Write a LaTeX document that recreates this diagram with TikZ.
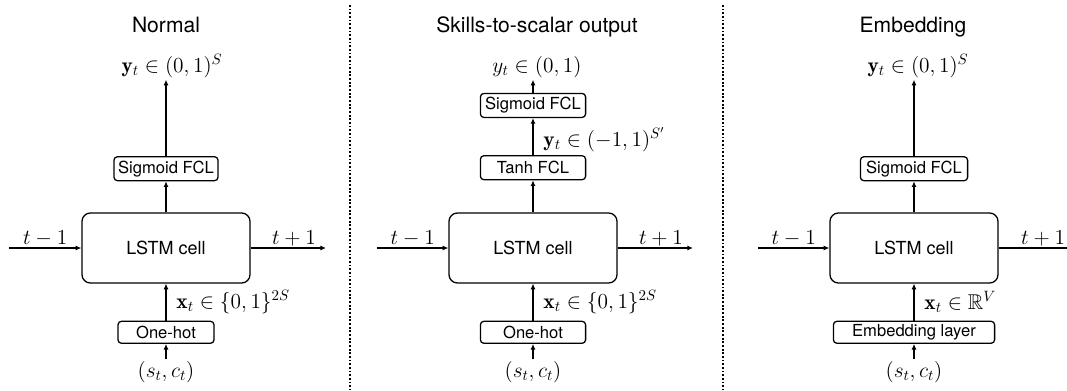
\RequirePackage{fix-cm}
\documentclass[tikz,border=0pt]{standalone}
\usepackage{amsmath,amssymb}
\usepackage{fontspec}
\setsansfont{TeX Gyre Heros}
\usepackage{tikz}
\usetikzlibrary{arrows.meta,positioning}

\begin{document}
\begin{tikzpicture}[x=0.025cm,y=-0.025cm,>={Latex[length=4pt,width=3.6pt]},line width=0.9pt]
\tikzstyle{cell}=[draw,rounded corners=6pt,minimum width=4.2cm,minimum height=1.75cm,inner sep=0pt,font=\sffamily\fontsize{12.8}{15}\selectfont]
\tikzstyle{layer}=[draw,rounded corners=2.5pt,minimum height=0.6cm,inner sep=0pt,font=\sffamily\fontsize{11.8}{13}\selectfont]
\tikzstyle{title}=[anchor=base,font=\sffamily\fontsize{15}{18}\selectfont]
\tikzstyle{lbl}=[font=\fontsize{15.2}{17}\selectfont,inner sep=1pt]
\tikzstyle{sep}=[line width=0.8pt,dash pattern=on 1.3pt off 1.3pt]
\useasboundingbox (0,0) rectangle (1067,390);
% normal
\node[title] (t1) at (166,32) {Normal};
\node[cell] (c1) at (166,248) {LSTM cell};
\node[layer, minimum width=2.6cm, above=0.775cm of c1] (sig1) {Sigmoid FCL};
\node[layer, minimum width=2.4cm, minimum height=0.55cm, below=0.925cm of c1] (oh1) {One-hot};
\node[lbl] (out1) at (172,66) {$\mathbf{y}_t \in (0,1)^S$};
\node[lbl] (in1) at (166,372) {$(s_t,c_t)$};
\coordinate (l1) at (9,248);
\coordinate (r1) at (326,248);
\draw[->] (l1) -- (c1) node[midway,above,lbl] {$t-1$};
\draw[->] (c1) -- (r1) node[midway,above,lbl,xshift=4pt] {$t+1$};
\draw[->] (c1) -- (sig1);
\draw[->] (sig1.north) -- (sig1.north |- out1.south);
\draw[->] (oh1) -- (c1) node[midway,right=6pt,lbl] {$\mathbf{x}_t \in \{0,1\}^{2S}$};
\draw[->] (in1) -- (oh1);
\draw[sep] (350,5) -- (350,390);
% skills-to-scalar
\node[title] (t2) at (537,32) {Skills-to-scalar output};
\node[cell] (c2) at (533,248) {LSTM cell};
\node[layer, minimum width=2.63cm, above=0.8cm of c2] (tanh2) {Tanh FCL};
\node[layer, minimum width=2.63cm, above=0.925cm of tanh2] (sig2) {Sigmoid FCL};
\node[layer, minimum width=2.63cm, minimum height=0.55cm, below=0.925cm of c2] (oh2) {One-hot};
\node[lbl] (out2) at (537,67) {$y_t \in (0,1)$};
\node[lbl] (in2) at (533,372) {$(s_t,c_t)$};
\coordinate (l2) at (377,248);
\coordinate (r2) at (693,248);
\draw[->] (l2) -- (c2) node[midway,above,lbl] {$t-1$};
\draw[->] (c2) -- (r2) node[midway,above,lbl,xshift=4pt] {$t+1$};
\draw[->] (c2) -- (tanh2);
\draw[->] (tanh2) -- (sig2) node[midway,right=6pt,lbl,yshift=-2pt] {$\mathbf{y}_t \in (-1,1)^{S'}$};
\draw[->] (sig2.north) -- (sig2.north |- out2.south);
\draw[->] (oh2) -- (c2) node[midway,right=6pt,lbl] {$\mathbf{x}_t \in \{0,1\}^{2S}$};
\draw[->] (in2) -- (oh2);
\draw[sep] (723,5) -- (723,390);
% embedding
\node[title] (t3) at (913,32) {Embedding};
\node[cell] (c3) at (914,248) {LSTM cell};
\node[layer, minimum width=2.68cm, above=0.775cm of c3] (sig3) {Sigmoid FCL};
\node[layer, minimum width=4.03cm, minimum height=0.55cm, below=0.925cm of c3] (emb3) {Embedding layer};
\node[lbl] (out3) at (918,66) {$\mathbf{y}_t \in (0,1)^S$};
\node[lbl] (in3) at (914,372) {$(s_t,c_t)$};
\coordinate (l3) at (758,248);
\coordinate (r3) at (1082,248);
\draw[->] (l3) -- (c3) node[midway,above,lbl] {$t-1$};
\draw[->] (c3) -- (r3) node[midway,above,lbl,xshift=2pt] {$t+1$};
\draw[->] (c3) -- (sig3);
\draw[->] (sig3.north) -- (sig3.north |- out3.south);
\draw[->] (emb3) -- (c3) node[midway,right=6pt,lbl] {$\mathbf{x}_t \in \mathbb{R}^V$};
\draw[->] (in3) -- (emb3);
\end{tikzpicture}
\end{document}
